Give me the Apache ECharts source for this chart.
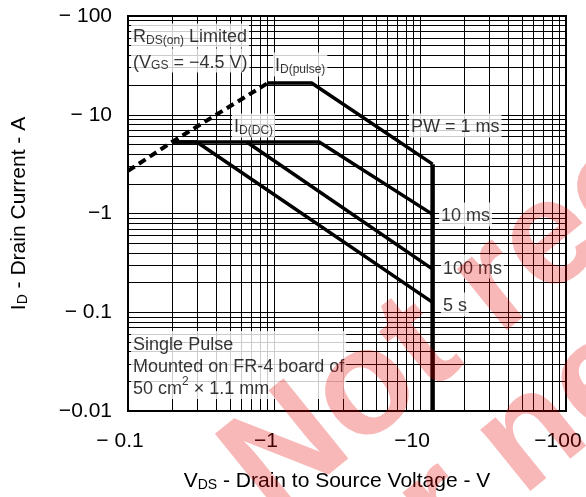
<!DOCTYPE html>
<html>
<head>
<meta charset="utf-8">
<script src="https://cdn.jsdelivr.net/npm/echarts@6/dist/echarts.min.js"></script>
<style>html,body{margin:0;padding:0;background:#fff;}#c{width:586px;height:497px;}</style>
</head>
<body>
<div id="c"></div>
<script>
// ---- axis ticks ----
const xTickValues = [0.1, 1, 10, 100];
const xTickLabels = ['\u2212 0.1', '\u22121', '\u221210', '\u2212100'];
const yTickValues = [0.01, 0.1, 1, 10, 100];
const yTickLabels = ['\u22120.01', '\u2212 0.1', '\u22121', '\u2212 10', '\u2212 100'];
// minor grid (log decades x 2..9)
const xDecades = [0.1, 1, 10];
const yDecades = [0.01, 0.1, 1, 10];
const minorMultipliers = [2, 3, 4, 5, 6, 7, 8, 9];

// ---- curves (|VDS| in V, |ID| in A) ----
const rdsLimitV = [0.1, 0.2, 0.91];
const rdsLimitI = [2.7, 5.3, 21];
const pw1msV = [0.91, 1.81, 12.2];
const pw1msI = [21, 21, 3.16];
const pw10msV = [0.2, 2.04, 12.2];
const pw10msI = [5.3, 5.3, 0.98];
const pw100msV = [0.65, 12.2];
const pw100msI = [5.3, 0.273];
const pw5sV = [0.2, 0.296, 12.2];
const pw5sI = [5.3, 5.3, 0.126];
const vdssV = [12.2, 12.2];
const vdssI = [3.16, 0.01];

// ---- annotations ----
const annoText = [
  '{n|R}{s|DS(on)}{n| Limited}',
  '{n|(V}{s|GS}{n| = \u22124.5 V)}',
  '{n|I}{s|D(pulse)}',
  '{n|I}{s|D(DC)}',
  '{n|PW = 1 ms}',
  '{n|10 ms}',
  '{n|100 ms}',
  '{n|5 s}',
  '{n|Single Pulse}\n{n|Mounted on FR-4 board of}\n{n|50 cm}{sup|2}{n| \u00d7 1.1 mm}'
];
const annoV = [0.105, 0.105, 0.984, 0.516, 8.41, 13.5, 13.9, 13.9, 0.105];
const annoI = [63.5, 35.4, 32.3, 7.78, 7.78, 0.977, 0.29, 0.12, 0.0292];

const FONT = '"Liberation Sans", Arial, sans-serif';
const zip = (a, b) => a.map((v, i) => [v, b[i]]);
const fmt = (vals, labels) => (v) => {
  for (let i = 0; i < vals.length; i++) if (Math.abs(Math.log10(v) - Math.log10(vals[i])) < 1e-6) return labels[i];
  return '';
};
const minorX = [];
xDecades.forEach(d => minorMultipliers.forEach(m => minorX.push({ xAxis: d * m })));
const minorY = [];
yDecades.forEach(d => minorMultipliers.forEach(m => minorY.push({ yAxis: d * m })));

const thick = { color: '#000', width: 3.5 };
const lineSeries = (data, style) => ({
  type: 'line', data, symbol: 'none', silent: true, z: 5,
  lineStyle: Object.assign({}, thick, style || {}), animation: false
});

const chart = echarts.init(document.getElementById('c'), null, { renderer: 'canvas' });
chart.setOption({
  animation: false,
  backgroundColor: '#fff',
  textStyle: { fontFamily: FONT },
  grid: { left: 128, top: 16, width: 438, height: 395, show: true, borderColor: '#000', borderWidth: 2, backgroundColor: 'transparent' },
  xAxis: {
    type: 'log', logBase: 10, min: 0.1, max: 100,
    axisLine: { show: false }, axisTick: { show: false },
    splitLine: { show: true, lineStyle: { color: '#000', width: 1 } },
    axisLabel: { formatter: fmt(xTickValues, xTickLabels), fontSize: 21, color: '#000', margin: 20, padding: [0, 16, 0, 0], fontFamily: FONT },
    name: '{n|V}{s|DS}{n| - Drain to Source Voltage - V}',
    nameLocation: 'middle', nameGap: 60,
    nameTextStyle: { padding: [0, 20, 0, 0], rich: { n: { fontSize: 21, color: '#000', fontFamily: FONT, verticalAlign: 'bottom' }, s: { fontSize: 14, color: '#000', fontFamily: FONT, verticalAlign: 'bottom' } } }
  },
  yAxis: {
    type: 'log', logBase: 10, min: 0.01, max: 100,
    axisLine: { show: false }, axisTick: { show: false },
    splitLine: { show: true, lineStyle: { color: '#000', width: 1 } },
    axisLabel: { formatter: fmt(yTickValues, yTickLabels), fontSize: 21, color: '#000', margin: 16, fontFamily: FONT },
    name: '{n|I}{s|D}{n| - Drain Current - A}',
    nameLocation: 'middle', nameGap: 98, nameRotate: 90,
    nameTextStyle: { rich: { n: { fontSize: 21, color: '#000', fontFamily: FONT, verticalAlign: 'bottom' }, s: { fontSize: 14, color: '#000', fontFamily: FONT, verticalAlign: 'bottom' } } }
  },
  series: [
    {
      type: 'line', data: [], silent: true, z: 1,
      markLine: {
        silent: true, symbol: ['none', 'none'], label: { show: false }, animation: false,
        lineStyle: { color: '#000', width: 1, type: 'solid' },
        data: minorX.concat(minorY)
      }
    },
    lineSeries(zip(rdsLimitV, rdsLimitI), { type: [8, 5], width: 4 }),
    lineSeries(zip(pw1msV, pw1msI)),
    lineSeries(zip(pw10msV, pw10msI)),
    lineSeries(zip(pw100msV, pw100msI)),
    lineSeries(zip(pw5sV, pw5sI)),
    lineSeries(zip(vdssV, vdssI), { width: 4.5 }),
    {
      type: 'scatter', symbolSize: 0, silent: true, z: 8, animation: false,
      data: annoV.map((v, i) => ({ value: [v, annoI[i]], label: { formatter: annoText[i] } })),
      label: {
        show: true, position: 'right', distance: 0, align: 'left',
        backgroundColor: '#fff', padding: [1, 2, 1, 2],
        lineHeight: 26,
        rich: {
          n: { fontSize: 18, color: '#000', fontFamily: FONT, verticalAlign: 'bottom', lineHeight: 22 },
          s: { fontSize: 12, color: '#000', fontFamily: FONT, verticalAlign: 'bottom', lineHeight: 22 },
          sup: { fontSize: 12, color: '#000', fontFamily: FONT, verticalAlign: 'top', lineHeight: 22 }
        }
      }
    }
  ],
  graphic: [
    { type: 'text', x: 246, y: 488, rotation: 39 * Math.PI / 180, z: 100, silent: true,
      style: { text: 'Not recommended', fontSize: 150, fontWeight: 'bold', fontFamily: FONT, fill: 'rgba(230,0,0,0.28)', verticalAlign: 'middle', align: 'left' } },
    { type: 'text', x: 246 + 0.629 * 140 - 0.777 * 33, y: 488 + 0.777 * 140 + 0.629 * 33, rotation: 39 * Math.PI / 180, z: 100, silent: true,
      style: { text: 'for new design', fontSize: 150, fontWeight: 'bold', fontFamily: FONT, fill: 'rgba(230,0,0,0.28)', verticalAlign: 'middle', align: 'left' } }
  ]
});
</script>
</body>
</html>
